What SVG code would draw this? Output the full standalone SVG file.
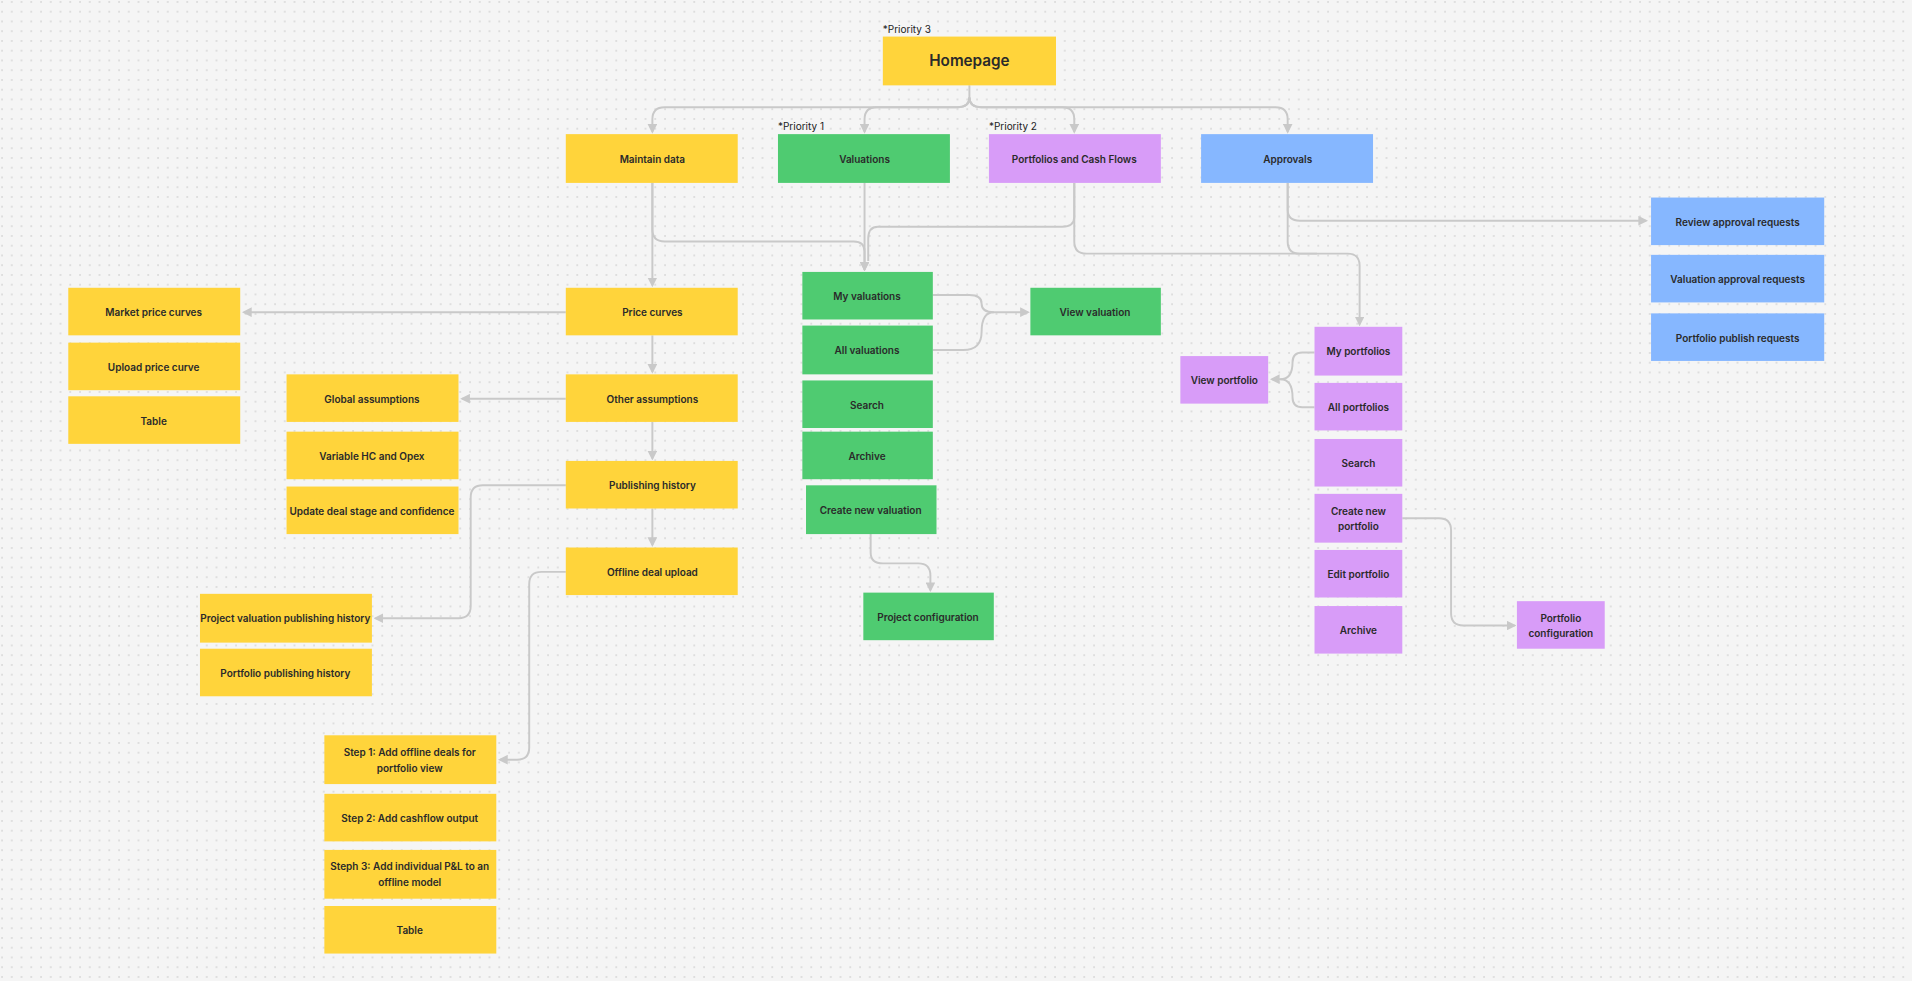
<svg xmlns="http://www.w3.org/2000/svg" width="1912" height="981" viewBox="0 0 1912 981">
<style>
.n{stroke:none}
.y{fill:#ffd43b}.g{fill:#4fcb71}.p{fill:#d89cf8}.b{fill:#86b7ff}
.t{font-family:Inter,"Liberation Sans",sans-serif;font-weight:600;font-size:8.2px;fill:#2a2a2a;text-anchor:middle;dominant-baseline:central}
.h{font-size:12.5px}
.pr{font-family:Inter,"Liberation Sans",sans-serif;font-size:8.2px;fill:#222}
.c{fill:none;stroke:#c9c9c9;stroke-width:1.6;stroke-linejoin:round}
</style>
<defs>
<pattern id="dots" width="9.75" height="9.75" patternUnits="userSpaceOnUse"><circle cx="2" cy="2" r="0.8" fill="#c2c2c2"/></pattern>
<marker id="a" viewBox="0 0 10 10" refX="8" refY="5" markerWidth="5" markerHeight="5" orient="auto-start-reverse"><path d="M0,0 L10,5 L0,10 z" fill="#c9c9c9"/></marker>
</defs>
<rect width="1912" height="981" fill="#f5f5f5"/>
<rect width="1912" height="981" fill="url(#dots)"/>
<g transform="scale(1.21939)">
<g id="connectors">
<path class="c" marker-end="url(#a)" d="M795,70 V80 Q795,88 785,88 H545 Q535,88 535,98 V108"/>
<path class="c" marker-end="url(#a)" d="M795,80 Q795,88 785,88 H719 Q709,88 709,98 V108"/>
<path class="c" marker-end="url(#a)" d="M795,80 Q795,88 805,88 H871 Q881,88 881,98 V108"/>
<path class="c" marker-end="url(#a)" d="M795,80 Q795,88 805,88 H1046 Q1056,88 1056,98 V108"/>
<path class="c" marker-end="url(#a)" d="M535,150 V234"/>
<path class="c" marker-end="url(#a)" d="M535,150 V188 Q535,198 545,198 H700 Q709,198 709,206 V221"/>
<path class="c" marker-end="url(#a)" d="M709,150 V221"/>
<path class="c" d="M881,150 V178 Q881,186 871,186 H720 Q712,186 712,196 V214"/>
<path class="c" marker-end="url(#a)" d="M881,150 V198 Q881,208 891,208 H1105 Q1115,208 1115,218 V266"/>
<path class="c" d="M1056,150 V198 Q1056,208 1066,208 H1080"/>
<path class="c" marker-end="url(#a)" d="M1056,150 V172 Q1056,181 1066,181 H1350"/>
<path class="c" marker-end="url(#a)" d="M464,256 H200"/>
<path class="c" marker-end="url(#a)" d="M535,275 V305"/>
<path class="c" marker-end="url(#a)" d="M464,327 H379"/>
<path class="c" marker-end="url(#a)" d="M535,346 V376"/>
<path class="c" marker-end="url(#a)" d="M535,417 V447"/>
<path class="c" marker-end="url(#a)" d="M464,398 H396 Q386,398 386,408 V497 Q386,507 376,507 H308"/>
<path class="c" marker-end="url(#a)" d="M464,469 H444 Q434,469 434,479 V613 Q434,623 424,623 H410"/>
<path class="c" marker-end="url(#a)" d="M765,242 H795 Q805,242 805,249 Q805,256 815,256 H843"/>
<path class="c" d="M765,287 H790 Q805,287 805,272 Q805,256 815,256"/>
<path class="c" marker-end="url(#a)" d="M714,438 V453 Q714,462 724,462 H753 Q763,462 763,472 V484"/>
<path class="c" marker-end="url(#a)" d="M1078,289 H1068 Q1060,289 1060,297 Q1060,311 1050,311 H1043"/>
<path class="c" d="M1078,334 H1068 Q1060,334 1060,326 Q1060,311 1050,311"/>
<path class="c" marker-end="url(#a)" d="M1150,425 H1180 Q1190,425 1190,435 V503 Q1190,513 1200,513 H1242"/>
</g>
<text class="pr" x="724" y="27">*Priority 3</text>
<text class="pr" x="638" y="107">*Priority 1</text>
<text class="pr" x="811" y="107">*Priority 2</text>
<g id="homepage"><rect class="y" x="724" y="30" width="142" height="40"/><text class="t h" x="795" y="50">Homepage</text></g>
<g id="maintain"><rect class="y" x="464" y="110" width="141" height="40"/><text class="t" x="535" y="130">Maintain data</text></g>
<g id="valuations"><rect class="g" x="638" y="110" width="141" height="40"/><text class="t" x="709" y="130">Valuations</text></g>
<g id="portfolios"><rect class="p" x="811" y="110" width="141" height="40"/><text class="t" x="881" y="130">Portfolios and Cash Flows</text></g>
<g id="approvals"><rect class="b" x="985" y="110" width="141" height="40"/><text class="t" x="1056" y="130">Approvals</text></g>
<g id="review"><rect class="b" x="1354" y="162" width="142" height="39"/><text class="t" x="1425" y="182">Review approval requests</text></g>
<g id="valapp"><rect class="b" x="1354" y="209" width="142" height="39"/><text class="t" x="1425" y="229">Valuation approval requests</text></g>
<g id="portpub"><rect class="b" x="1354" y="257" width="142" height="39"/><text class="t" x="1425" y="277">Portfolio publish requests</text></g>
<g id="pricecurves"><rect class="y" x="464" y="236" width="141" height="39"/><text class="t" x="535" y="256">Price curves</text></g>
<g id="market"><rect class="y" x="56" y="236" width="141" height="39"/><text class="t" x="126" y="256">Market price curves</text></g>
<g id="upload"><rect class="y" x="56" y="281" width="141" height="39"/><text class="t" x="126" y="301">Upload price curve</text></g>
<g id="table1"><rect class="y" x="56" y="325" width="141" height="39"/><text class="t" x="126" y="345">Table</text></g>
<g id="other"><rect class="y" x="464" y="307" width="141" height="39"/><text class="t" x="535" y="327">Other assumptions</text></g>
<g id="global"><rect class="y" x="235" y="307" width="141" height="39"/><text class="t" x="305" y="327">Global assumptions</text></g>
<g id="variable"><rect class="y" x="235" y="354" width="141" height="39"/><text class="t" x="305" y="374">Variable HC and Opex</text></g>
<g id="update"><rect class="y" x="235" y="399" width="141" height="39"/><text class="t" x="305" y="419">Update deal stage and confidence</text></g>
<g id="publishing"><rect class="y" x="464" y="378" width="141" height="39"/><text class="t" x="535" y="398">Publishing history</text></g>
<g id="offline"><rect class="y" x="464" y="449" width="141" height="39"/><text class="t" x="535" y="469">Offline deal upload</text></g>
<g id="projpub"><rect class="y" x="164" y="487" width="141" height="40"/><text class="t" x="234" y="507">Project valuation publishing history</text></g>
<g id="portpubh"><rect class="y" x="164" y="532" width="141" height="39"/><text class="t" x="234" y="552">Portfolio publishing history</text></g>
<g id="step1"><rect class="y" x="266" y="603" width="141" height="40"/><text class="t" x="336" y="617">Step 1: Add offline deals for</text><text class="t" x="336" y="630">portfolio view</text></g>
<g id="step2"><rect class="y" x="266" y="651" width="141" height="39"/><text class="t" x="336" y="671">Step 2: Add cashflow output</text></g>
<g id="step3"><rect class="y" x="266" y="697" width="141" height="40"/><text class="t" x="336" y="710">Steph 3: Add individual P&amp;L to an</text><text class="t" x="336" y="723">offline model</text></g>
<g id="table2"><rect class="y" x="266" y="743" width="141" height="39"/><text class="t" x="336" y="763">Table</text></g>
<g id="myval"><rect class="g" x="658" y="223" width="107" height="39"/><text class="t" x="711" y="243">My valuations</text></g>
<g id="allval"><rect class="g" x="658" y="267" width="107" height="40"/><text class="t" x="711" y="287">All valuations</text></g>
<g id="valsearch"><rect class="g" x="658" y="312" width="107" height="39"/><text class="t" x="711" y="332">Search</text></g>
<g id="valarchive"><rect class="g" x="658" y="354" width="107" height="39"/><text class="t" x="711" y="374">Archive</text></g>
<g id="newval"><rect class="g" x="661" y="398" width="107" height="40"/><text class="t" x="714" y="418">Create new valuation</text></g>
<g id="projconf"><rect class="g" x="708" y="486" width="107" height="39"/><text class="t" x="761" y="506">Project configuration</text></g>
<g id="viewval"><rect class="g" x="845" y="236" width="107" height="39"/><text class="t" x="898" y="256">View valuation</text></g>
<g id="myport"><rect class="p" x="1078" y="268" width="72" height="40"/><text class="t" x="1114" y="288">My portfolios</text></g>
<g id="allport"><rect class="p" x="1078" y="314" width="72" height="39"/><text class="t" x="1114" y="334">All portfolios</text></g>
<g id="portsearch"><rect class="p" x="1078" y="360" width="72" height="39"/><text class="t" x="1114" y="380">Search</text></g>
<g id="newport"><rect class="p" x="1078" y="405" width="72" height="40"/><text class="t" x="1114" y="419">Create new</text><text class="t" x="1114" y="431">portfolio</text></g>
<g id="editport"><rect class="p" x="1078" y="451" width="72" height="39"/><text class="t" x="1114" y="471">Edit portfolio</text></g>
<g id="portarchive"><rect class="p" x="1078" y="497" width="72" height="39"/><text class="t" x="1114" y="517">Archive</text></g>
<g id="viewport"><rect class="p" x="968" y="292" width="72" height="39"/><text class="t" x="1004" y="312">View portfolio</text></g>
<g id="portconf"><rect class="p" x="1244" y="493" width="72" height="39"/><text class="t" x="1280" y="507">Portfolio</text><text class="t" x="1280" y="519">configuration</text></g>
</g>
</svg>
